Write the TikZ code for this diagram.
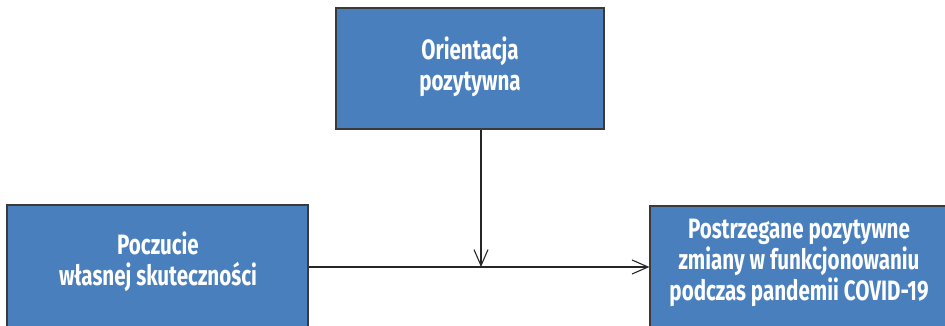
\documentclass[tikz,border=0pt]{standalone}
\usepackage{fontspec}
\usetikzlibrary{arrows.meta}
\newfontfamily\boxfont{Fira Sans}[FakeStretch=0.735]
\definecolor{boxblue}{HTML}{4A7FBE}
\definecolor{boxline}{HTML}{3A3A3A}
\begin{document}
\begin{tikzpicture}[x=1pt,y=-1pt,
  box/.style={draw=boxline,line width=1.2pt,fill=boxblue,inner sep=0pt},
  lbl/.style={text=white,align=center,font=\boxfont\bfseries\fontsize{28}{31}\selectfont,inner sep=0pt},
  conn/.style={draw=black!85,line width=1.1pt,-{Straight Barb[length=16pt,width=14pt]}}]
\useasboundingbox (0,0) rectangle (945,326);
\begin{scope}
\clip (0,0) rectangle (945,326);
\node[box,minimum width=268pt,minimum height=121pt] (top) at (470,68.5) {};
\node[box,minimum width=301pt,minimum height=124pt] (left) at (157.5,267) {};
\node[box,minimum width=296pt,minimum height=122pt] (right) at (798,267) {};
\end{scope}
\node[lbl] (toptext) at (470,67) {Orientacja\\pozytywna};
\node[lbl] (lefttext) at (158,262) {Poczucie\\własnej skuteczności};
\node[lbl] (righttext) at (799,263) {Postrzegane pozytywne\\zmiany w funkcjonowaniu\\podczas pandemii COVID-19};
\coordinate (m) at (481,267);
\draw[conn] (left.east) -- (right.west);
\draw[conn] (top.south -| m) -- (m);
\end{tikzpicture}
\end{document}
